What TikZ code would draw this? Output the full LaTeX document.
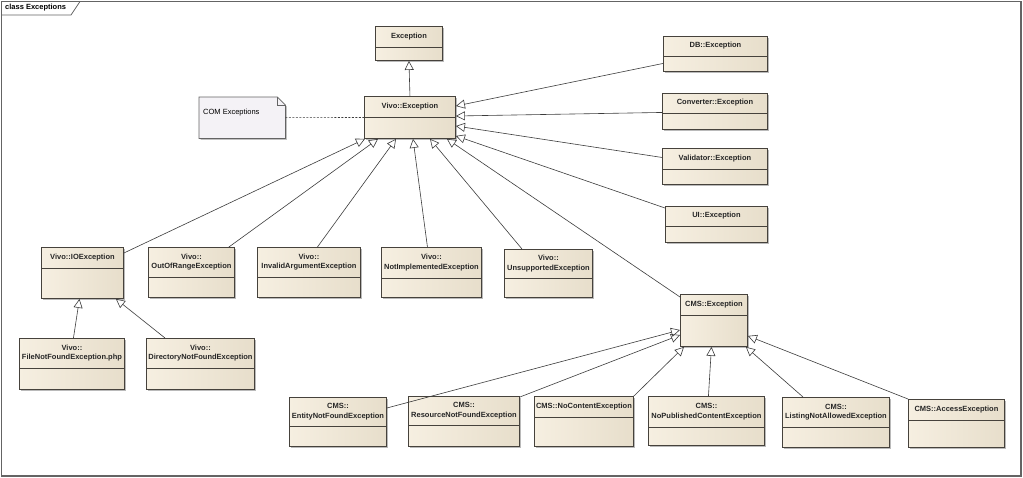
\documentclass[tikz,border=0pt]{standalone}
\usepackage{fontspec}
\setmainfont{Liberation Sans}
\usepackage{tikz}
\usetikzlibrary{arrows.meta,shadows}

\definecolor{clsL}{RGB}{246,239,225}
\definecolor{clsM}{RGB}{252,248,239}
\definecolor{clsR}{RGB}{231,222,203}
\definecolor{clsborder}{RGB}{70,66,60}
\definecolor{linegray}{RGB}{60,60,60}
\definecolor{notefill}{RGB}{244,242,246}
\definecolor{framegray}{RGB}{100,100,100}

% class box: name, x, y, width, height, name band, label
\newcommand{\umlclass}[7]{%
  \node[cls, minimum width=#4pt, minimum height=#5pt, anchor=north west] (#1) at (#2,#3) {};
  \draw[clsborder, line width=0.8pt] ([yshift={-#6pt}]#1.north west) -- ([yshift={-#6pt}]#1.north east);
  \node[clsname] at ([yshift={-#6pt/2}]#1.north) {#7};
}

\begin{document}
\begin{tikzpicture}[x=1pt,y=-1pt,
  cls/.style={draw=clsborder, line width=0.9pt, inner sep=0pt,
    left color=clsL, middle color=clsM, right color=clsR,
    drop shadow={shadow xshift=1.5pt, shadow yshift=-1.5pt, opacity=0.45, fill=black!60}},
  clsname/.style={font=\bfseries\fontsize{7.5}{9.5}\selectfont, align=center, text=black!85, inner sep=0pt},
  gen/.style={draw=linegray, line width=0.6pt, -{Triangle[open, length=9pt, width=9pt, line width=0.6pt]}},
  >=stealth]
\useasboundingbox (0,0) rectangle (1023,477);
\fill[white] (0,0) rectangle (1023,477);
% Frame
\draw[framegray, line width=1.2pt] (1.5,1.5) rectangle (1021,476);
\draw[framegray, line width=0.8pt] (1.5,15) -- (71,15) -- (80,1.5);
\node[anchor=west, font=\bfseries\fontsize{7.5}{9}\selectfont, inner sep=0pt] (title) at (5,8) {class Exceptions};

% Top of the hierarchy
\umlclass{exc}{375}{26}{67}{34}{21}{Exception}
\umlclass{vivo}{364}{96}{91}{42}{21}{Vivo::Exception}

% Note
\node[minimum width=86pt, minimum height=41pt, anchor=north west, inner sep=0pt] (note) at (199,97) {};
\draw[draw=framegray, line width=0.8pt, fill=notefill,
  drop shadow={shadow xshift=1.5pt, shadow yshift=-1.5pt, opacity=0.4, fill=black!60}]
  (note.north west) -- ([xshift=-8pt]note.north east) -- ([yshift=-8pt]note.north east)
  -- (note.south east) -- (note.south west) -- cycle;
\draw[framegray, line width=0.6pt] ([xshift=-8pt]note.north east) -- ([xshift=-8pt,yshift=-8pt]note.north east) -- ([yshift=-8pt]note.north east);
\node[anchor=west, font=\fontsize{7.5}{9}\selectfont, inner sep=0pt] (notetext) at (203,113) {COM Exceptions};

% Other modules
\umlclass{db}{663}{36}{104}{35}{20}{DB::Exception}
\umlclass{conv}{662}{93}{105}{36}{20}{Converter::Exception}
\umlclass{valid}{662}{148}{105}{36}{21}{Validator::Exception}
\umlclass{ui}{665}{206}{102}{36}{20}{UI::Exception}

% Vivo exceptions
\umlclass{ioe}{41}{247}{82}{51}{21}{Vivo::IOException}
\umlclass{oor}{148}{247}{86}{50}{30}{Vivo::\\OutOfRangeException}
\umlclass{ia}{257}{247}{103}{50}{30}{Vivo::\\InvalidArgumentException}
\umlclass{ni}{381}{247}{100}{50}{31}{Vivo::\\NotImplementedException}
\umlclass{us}{504}{249}{88}{48}{29}{Vivo::\\UnsupportedException}
\umlclass{fnf}{19}{338}{105}{51}{30}{Vivo::\\FileNotFoundException.php}
\umlclass{dnf}{146}{338}{108}{51}{30}{Vivo::\\DirectoryNotFoundException}

% CMS exceptions
\umlclass{cms}{680}{294}{67}{52}{21}{CMS::Exception}
\umlclass{ent}{289}{397}{97}{49}{29}{CMS::\\EntityNotFoundException}
\umlclass{res}{408}{396}{111}{50}{29}{CMS::\\ResourceNotFoundException}
\umlclass{noc}{534}{396}{99}{50}{21}{CMS::NoContentException}
\umlclass{nop}{648}{396}{116}{49}{31}{CMS::\\NoPublishedContentException}
\umlclass{lst}{782}{397}{107}{50}{30}{CMS::\\ListingNotAllowedException}
\umlclass{acc}{908}{399}{96}{48}{21}{CMS::AccessException}

% Generalizations
\draw[gen] (vivo.north) -- (exc.south);
\draw[gen] ([yshift=-9.5pt]db.west) -- ([yshift=-10pt]vivo.north east);
\draw[gen] ([yshift=-1pt]conv.west) -- ([yshift=-20pt]vivo.north east);
\draw[gen] ([yshift=9pt]valid.west) -- ([yshift=-30pt]vivo.north east);
\draw[gen] ([yshift=-2pt]ui.north west) -- ([yshift=3pt]vivo.south east);
\draw[gen] ([yshift=-3pt]cms.north west) -- ([xshift=-9pt]vivo.south east);
\draw[gen] ([yshift=-6pt]ioe.north east) -- ([xshift=1pt]vivo.south west);
\draw[gen] ([xshift=-6pt]oor.north east) -- ([xshift=14pt]vivo.south west);
\draw[gen] ([xshift=8.5pt]ia.north) -- ([xshift=32pt]vivo.south west);
\draw[gen] ([xshift=-4pt]ni.north) -- ([xshift=49pt]vivo.south west);
\draw[gen] ([xshift=18pt]us.north west) -- ([xshift=66pt]vivo.south west);
\draw[gen] ([xshift=1.5pt]fnf.north) -- ([xshift=-3pt]ioe.south);
\draw[gen] ([xshift=19pt]dnf.north west) -- ([xshift=-8pt]ioe.south east);
\draw[gen] ([yshift=-11pt]ent.north east) -- ([yshift=-36pt]cms.north west);
\draw[gen] ([yshift=-1pt]res.north east) -- ([yshift=-41pt]cms.north west);
\draw[gen] (noc.north east) -- ([xshift=4pt]cms.south west);
\draw[gen] ([xshift=2pt]nop.north) -- ([xshift=-2.5pt]cms.south);
\draw[gen] ([xshift=21pt]lst.north west) -- ([xshift=-2pt]cms.south east);
\draw[gen] (acc.north west) -- ([yshift=11pt]cms.south east);

% Note link
\draw[linegray, line width=0.6pt, dash pattern=on 2pt off 1.5pt] (note.east) -- (vivo.west);
\end{tikzpicture}
\end{document}
